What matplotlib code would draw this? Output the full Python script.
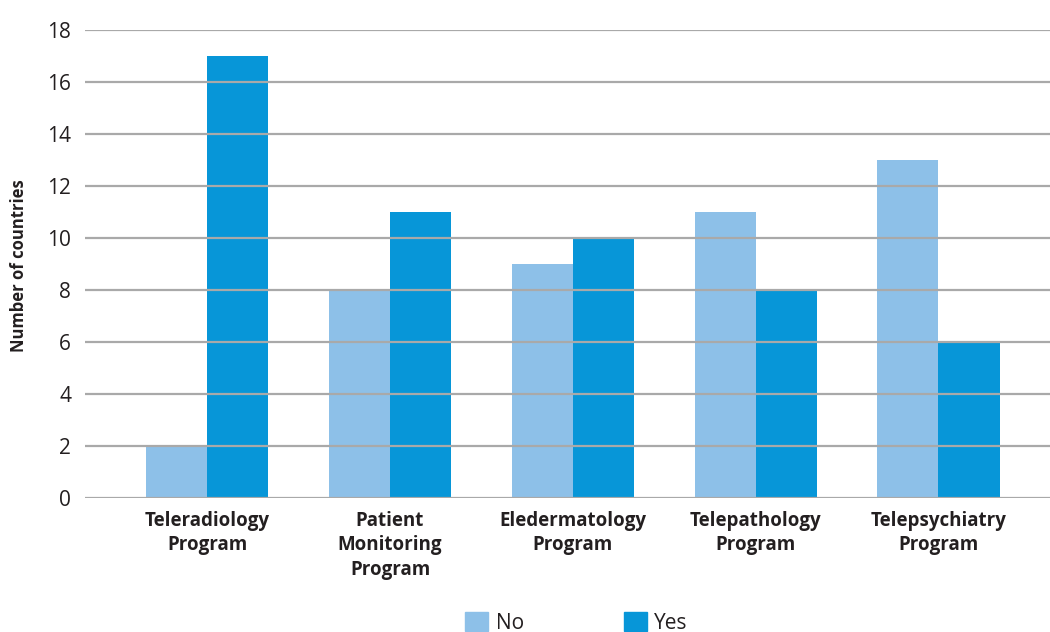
import numpy as np
import matplotlib
matplotlib.use('Agg')
import matplotlib.pyplot as plt
from matplotlib.patches import Patch

plt.rcParams['font.family'] = ['Open Sans', 'DejaVu Sans']

categories = ['Teleradiology\nProgram', 'Patient\nMonitoring\nProgram',
              'Eledermatology\nProgram', 'Telepathology\nProgram',
              'Telepsychiatry\nProgram']
no_vals = [2, 8, 9, 11, 13]
yes_vals = [17, 11, 10, 8, 6]
yticks = [0, 2, 4, 6, 8, 10, 12, 14, 16, 18]

c_no = '#8DC0E8'
c_yes = '#0796D8'
grid_c = '#A9A9A9'
txt_c = '#231F20'

fig = plt.figure(figsize=(10.5, 6.32), dpi=100)
ax = fig.add_axes([0.081, 0.212, 0.919, 0.7405])

x = np.arange(len(categories))
w = 0.334
ax.bar(x - w/2, no_vals, w, color=c_no, zorder=1)
ax.bar(x + w/2, yes_vals, w, color=c_yes, zorder=1)

ax.set_ylim(0, 18)
ax.set_xlim(-0.668, 4.61)
ax.set_yticks(yticks)
ax.set_yticklabels([str(t) for t in yticks], fontsize=15, color=txt_c)
ax.set_xticks(x)
ax.set_xticklabels(categories, fontsize=13.5, fontweight='bold', color=txt_c,
                   linespacing=1.3, va='top')
ax.tick_params(axis='both', length=0)
ax.tick_params(axis='y', pad=10)
ax.tick_params(axis='x', pad=9)
for t in yticks:
    ax.axhline(t, color=grid_c, lw=1.6, zorder=2)
for s in ax.spines.values():
    s.set_visible(False)

fig.text(0.018, 0.58, 'Number of countries', rotation=90, fontsize=12,
         fontweight='bold', color=txt_c, ha='center', va='center')

handles = [Patch(color=c_no, label='No'), Patch(color=c_yes, label='Yes')]
leg = fig.legend(handles=handles, loc='center', bbox_to_anchor=(0.549, 0.014),
                 ncol=2, frameon=False, fontsize=15, handlelength=1.1,
                 handleheight=1.0, handletextpad=0.35, columnspacing=4.8,
                 borderpad=0)
for t in leg.get_texts():
    t.set_color(txt_c)

fig.savefig('out.png', dpi=100)
